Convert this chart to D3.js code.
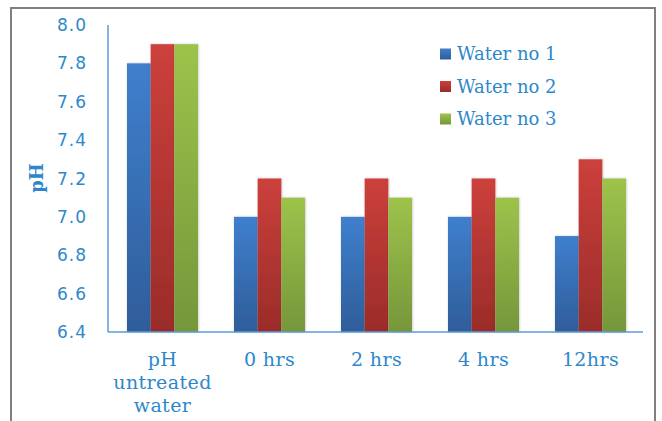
<!DOCTYPE html>
<html><head><meta charset="utf-8">
<script src="https://cdn.jsdelivr.net/npm/d3@7"></script>
<style>html,body{margin:0;padding:0;background:#fff;}svg{display:block;}</style>
</head><body>
<svg id="c" width="662" height="421"></svg>
<script>
const categories = [["pH","untreated","water"],["0 hrs"],["2 hrs"],["4 hrs"],["12hrs"]];
const seriesNames = ["Water no 1","Water no 2","Water no 3"];
const water1 = [7.8, 7.0, 7.0, 7.0, 6.9];
const water2 = [7.9, 7.2, 7.2, 7.2, 7.3];
const water3 = [7.9, 7.1, 7.1, 7.1, 7.2];
const yTicks = [6.4, 6.6, 6.8, 7.0, 7.2, 7.4, 7.6, 7.8, 8.0];
const seriesValues = [water1, water2, water3];
const colorsTop = ["#3f7fcd", "#cc403c", "#9dc34b"];
const colorsBot = ["#2f5d9a", "#9a2c29", "#76963a"];
const blue = "#2e87cc";

const svg = d3.select("#c");
const defs = svg.append("defs");
colorsTop.forEach((c,i)=>{
  const g = defs.append("linearGradient").attr("id","g"+i).attr("x1",0).attr("y1",0).attr("x2",0).attr("y2",1);
  g.append("stop").attr("offset","0%").attr("stop-color",c);
  g.append("stop").attr("offset","100%").attr("stop-color",colorsBot[i]);
});
const f = defs.append("filter").attr("id","sh").attr("x","-20%").attr("y","-5%").attr("width","140%").attr("height","110%");
f.append("feDropShadow").attr("dx",0.5).attr("dy",0).attr("stdDeviation",1.2).attr("flood-color","#000").attr("flood-opacity",0.25);

// outer border
svg.append("path").attr("d","M11,425 V8 H655 V425").attr("fill","none").attr("stroke","#7f7f7f").attr("stroke-width",2);

const x0 = 108, x1 = 643;
const y = d3.scaleLinear().domain([6.4, 8.0]).range([332, 25]);
const x = d3.scaleBand().domain(d3.range(categories.length)).range([x0, x1]).paddingInner(0).paddingOuter(0);
const groupW = 71;
const xs = d3.scaleBand().domain(d3.range(3)).range([0, groupW]);

const g = svg.append("g");
categories.forEach((c, ci)=>{
  const gx = x(ci) + (x.bandwidth() - groupW)/2 + 1;
  seriesValues.forEach((vals, si)=>{
    g.append("rect")
      .attr("x", gx + xs(si))
      .attr("y", y(vals[ci]))
      .attr("width", xs.bandwidth())
      .attr("height", y(6.4) - y(vals[ci]))
      .attr("fill", "url(#g"+si+")")
      .attr("filter","url(#sh)");
  });
});

// axes lines
svg.append("line").attr("x1",x0).attr("x2",x0).attr("y1",y(8.0)).attr("y2",y(6.4)).attr("stroke","#5b9bd5").attr("stroke-width",1.5);
svg.append("line").attr("x1",x0).attr("x2",x1).attr("y1",y(6.4)).attr("y2",y(6.4)).attr("stroke","#5b9bd5").attr("stroke-width",1.5);

// y tick labels
svg.selectAll(".yt").data(yTicks).enter().append("text")
  .attr("x", 87).attr("y", d=>y(d)).attr("dy","0.36em")
  .attr("text-anchor","end").attr("fill",blue)
  .style("font-family","'DejaVu Sans', Verdana, sans-serif").style("font-size","17px")
  .style("letter-spacing","1px")
  .text(d=>d.toFixed(1));

// x labels
categories.forEach((lines, ci)=>{
  const cx = x(ci) + x.bandwidth()/2 + 1;
  lines.forEach((t, li)=>{
    svg.append("text").attr("x", cx).attr("y", 366 + li*23)
      .attr("text-anchor","middle").attr("fill",blue)
      .style("font-family","'DejaVu Serif', serif").style("font-size","19px")
      .style("letter-spacing","0.4px")
      .text(t);
  });
});

// y title
svg.append("text").attr("transform","translate(43,178) rotate(-90)")
  .attr("text-anchor","middle").attr("fill",blue)
  .style("font-family","'DejaVu Serif', serif").style("font-size","18px").style("font-weight","bold")
  .text("pH");

// legend
seriesNames.forEach((n, i)=>{
  const ly = 54 + i*32.5;
  svg.append("rect").attr("x",440).attr("y",ly-5.5).attr("width",11).attr("height",11).attr("fill","url(#g"+i+")");
  svg.append("text").attr("x",457).attr("y",ly).attr("dy","0.36em").attr("fill",blue)
    .style("font-family","'DejaVu Serif', serif").style("font-size","18px")
    .text(n);
});
</script>
</body></html>
